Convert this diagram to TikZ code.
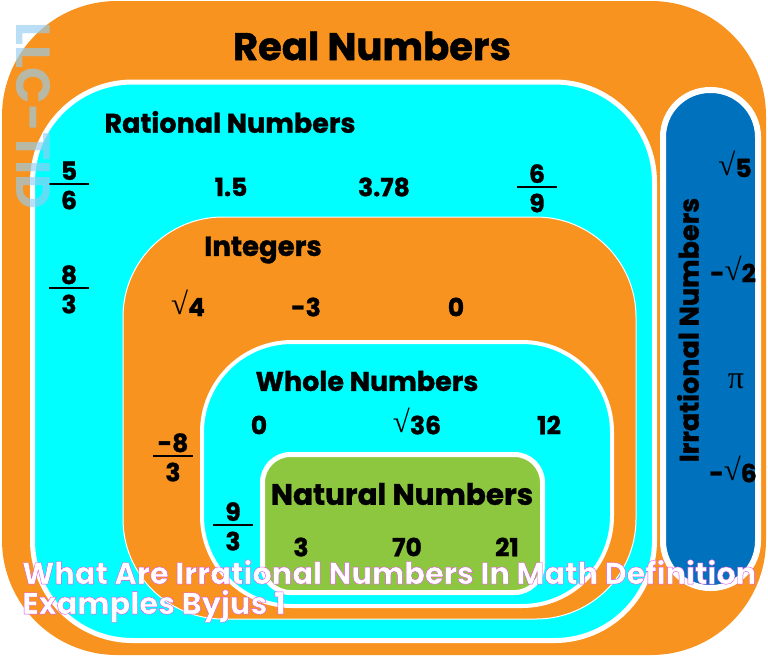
\documentclass[tikz,border=0pt]{standalone}
\usepackage{fontspec}
\setmainfont{Poppins}
\newfontfamily\heavyfont{Poppins}[BoldFeatures={FakeBold=1.2}]
\newfontfamily\symfont{Liberation Serif}
\usetikzlibrary{positioning}
\usetikzlibrary{calc}
\definecolor{realorange}{RGB}{247,147,30}
\definecolor{ratcyan}{RGB}{0,255,255}
\definecolor{natgreen}{RGB}{141,198,63}
\definecolor{irrblue}{RGB}{0,113,188}
\definecolor{capmagenta}{RGB}{226,70,232}
\definecolor{markblue}{RGB}{150,205,240}
\tikzset{
  setlbl/.style={font=\heavyfont\bfseries\fontsize{27}{30}\selectfont, inner sep=0pt},
  numlbl/.style={font=\heavyfont\bfseries\fontsize{25}{28}\selectfont, inner sep=0pt},
  caplbl/.style={font=\heavyfont\bfseries\fontsize{30.5}{36}\selectfont, inner sep=0pt, anchor=west}
}
\newcommand{\numfrac}[2]{{\setlength{\arrayrulewidth}{2pt}\begin{tabular}{@{}c@{}}\makebox[40pt]{#1}\\[-5pt]\hline\rule{0pt}{24pt}#2\end{tabular}}}
\newcommand{\rt}{\smash{\raisebox{2pt}{\symfont\mdseries\fontsize{31}{31}\selectfont √}}}
% white letters with a magenta rim (fill + stroke)
\newcommand{\rimtext}[1]{\textcolor{white}{\special{pdf:literal direct 0.886 0.275 0.91 RG 2 Tr 1.5 w}#1\special{pdf:literal direct 0 Tr}}}

\begin{document}
\begin{tikzpicture}[x=1pt, y=-1pt]

\useasboundingbox (0,0) rectangle (768,657);
\fill[white] (0,0) rectangle (768,657);

% real numbers
\fill[realorange, rounded corners=115pt] (2,1) rectangle (766,655);
\node[setlbl, font=\heavyfont\bfseries\fontsize{38.5}{42}\selectfont] (real) at (372,46) {Real Numbers};

%%%Rational
\filldraw[fill=ratcyan, draw=white, line width=5pt, rounded corners=100pt] (32.5,82) rectangle (654.5,640.5);
\node[setlbl] (rational) at (230,122) {Rational Numbers};
\node[numlbl] (fivesix) at (69,189) {\numfrac{5}{6}};
\node[numlbl] (onefive) at (231,187) {1.5};
\node[numlbl] (threeseven) at (384,187) {3.78};
\node[numlbl] (sixnine) at (537,192) {\numfrac{6}{9}};
\node[numlbl] (eightthree) at (69,293) {\numfrac{8}{3}};

%%%Integers
\filldraw[fill=realorange, draw=white, line width=1pt, rounded corners=100pt] (123,217) rectangle (636,619);
\node[setlbl, font=\heavyfont\bfseries\fontsize{27.5}{30}\selectfont] (integers) at (263,250) {Integers};
\node[numlbl] (rootfour) at (188,307) {\rt4};
\node[numlbl] (minusthree) at (306,307) {-3};
\node[numlbl] (zeroint) at (456,307) {0};
\node[numlbl] (minuseight) at (173,461) {\numfrac{-8}{3}};

%%%Whole
\filldraw[fill=ratcyan, draw=white, line width=4pt, rounded corners=90pt] (202,342) rectangle (612,606);
\node[setlbl] (whole) at (367,381) {Whole Numbers};
\node[numlbl] (zerowhole) at (259,425) {0};
\node[numlbl] (rootthirtysix) at (417,425) {\rt36};
\node[numlbl] (twelve) at (549,425) {12};
\node[numlbl] (ninethree) at (233,530) {\numfrac{9}{3}};

%%%Natural
\filldraw[fill=natgreen, draw=white, line width=5pt, rounded corners=28pt] (262.5,454.5) rectangle (542.5,592.5);
\node[setlbl, font=\heavyfont\bfseries\fontsize{29.5}{32}\selectfont] (natural) at (402,494) {Natural Numbers};
\node[numlbl] (three) at (301,547) {3};
\node[numlbl] (seventy) at (407,547) {70};
\node[numlbl] (twentyone) at (507,547) {21};

%%%Irrational
\filldraw[fill=irrblue, draw=white, line width=6pt, rounded corners=47pt] (663,90) rectangle (758,588);
\node[setlbl, rotate=90] (irrational) at (688,330) {Irrational Numbers};
\node[numlbl] (rootfive) at (735,168) {\rt5};
\node[numlbl] (roottwo) at (733,273) {-\rt2};
\node[numlbl] (pi) at (736,381) {{\symfont\mdseries\fontsize{32}{32}\selectfont π}};
\node[numlbl] (rootsix) at (733,473) {-\rt6};

% watermark
\node[font=\bfseries\fontsize{48}{48}\selectfont, text=markblue, opacity=0.65, rotate=-90, inner sep=0pt] (mark) at (33,116) {LLC-TID};

% caption
\node[caplbl] (capone) at (22,572) {\rimtext{What Are Irrational Numbers In Math Definition}};
\node[caplbl] (captwo) at (22,606) {\rimtext{Examples Byjus 1}};

\end{tikzpicture}
\end{document}
